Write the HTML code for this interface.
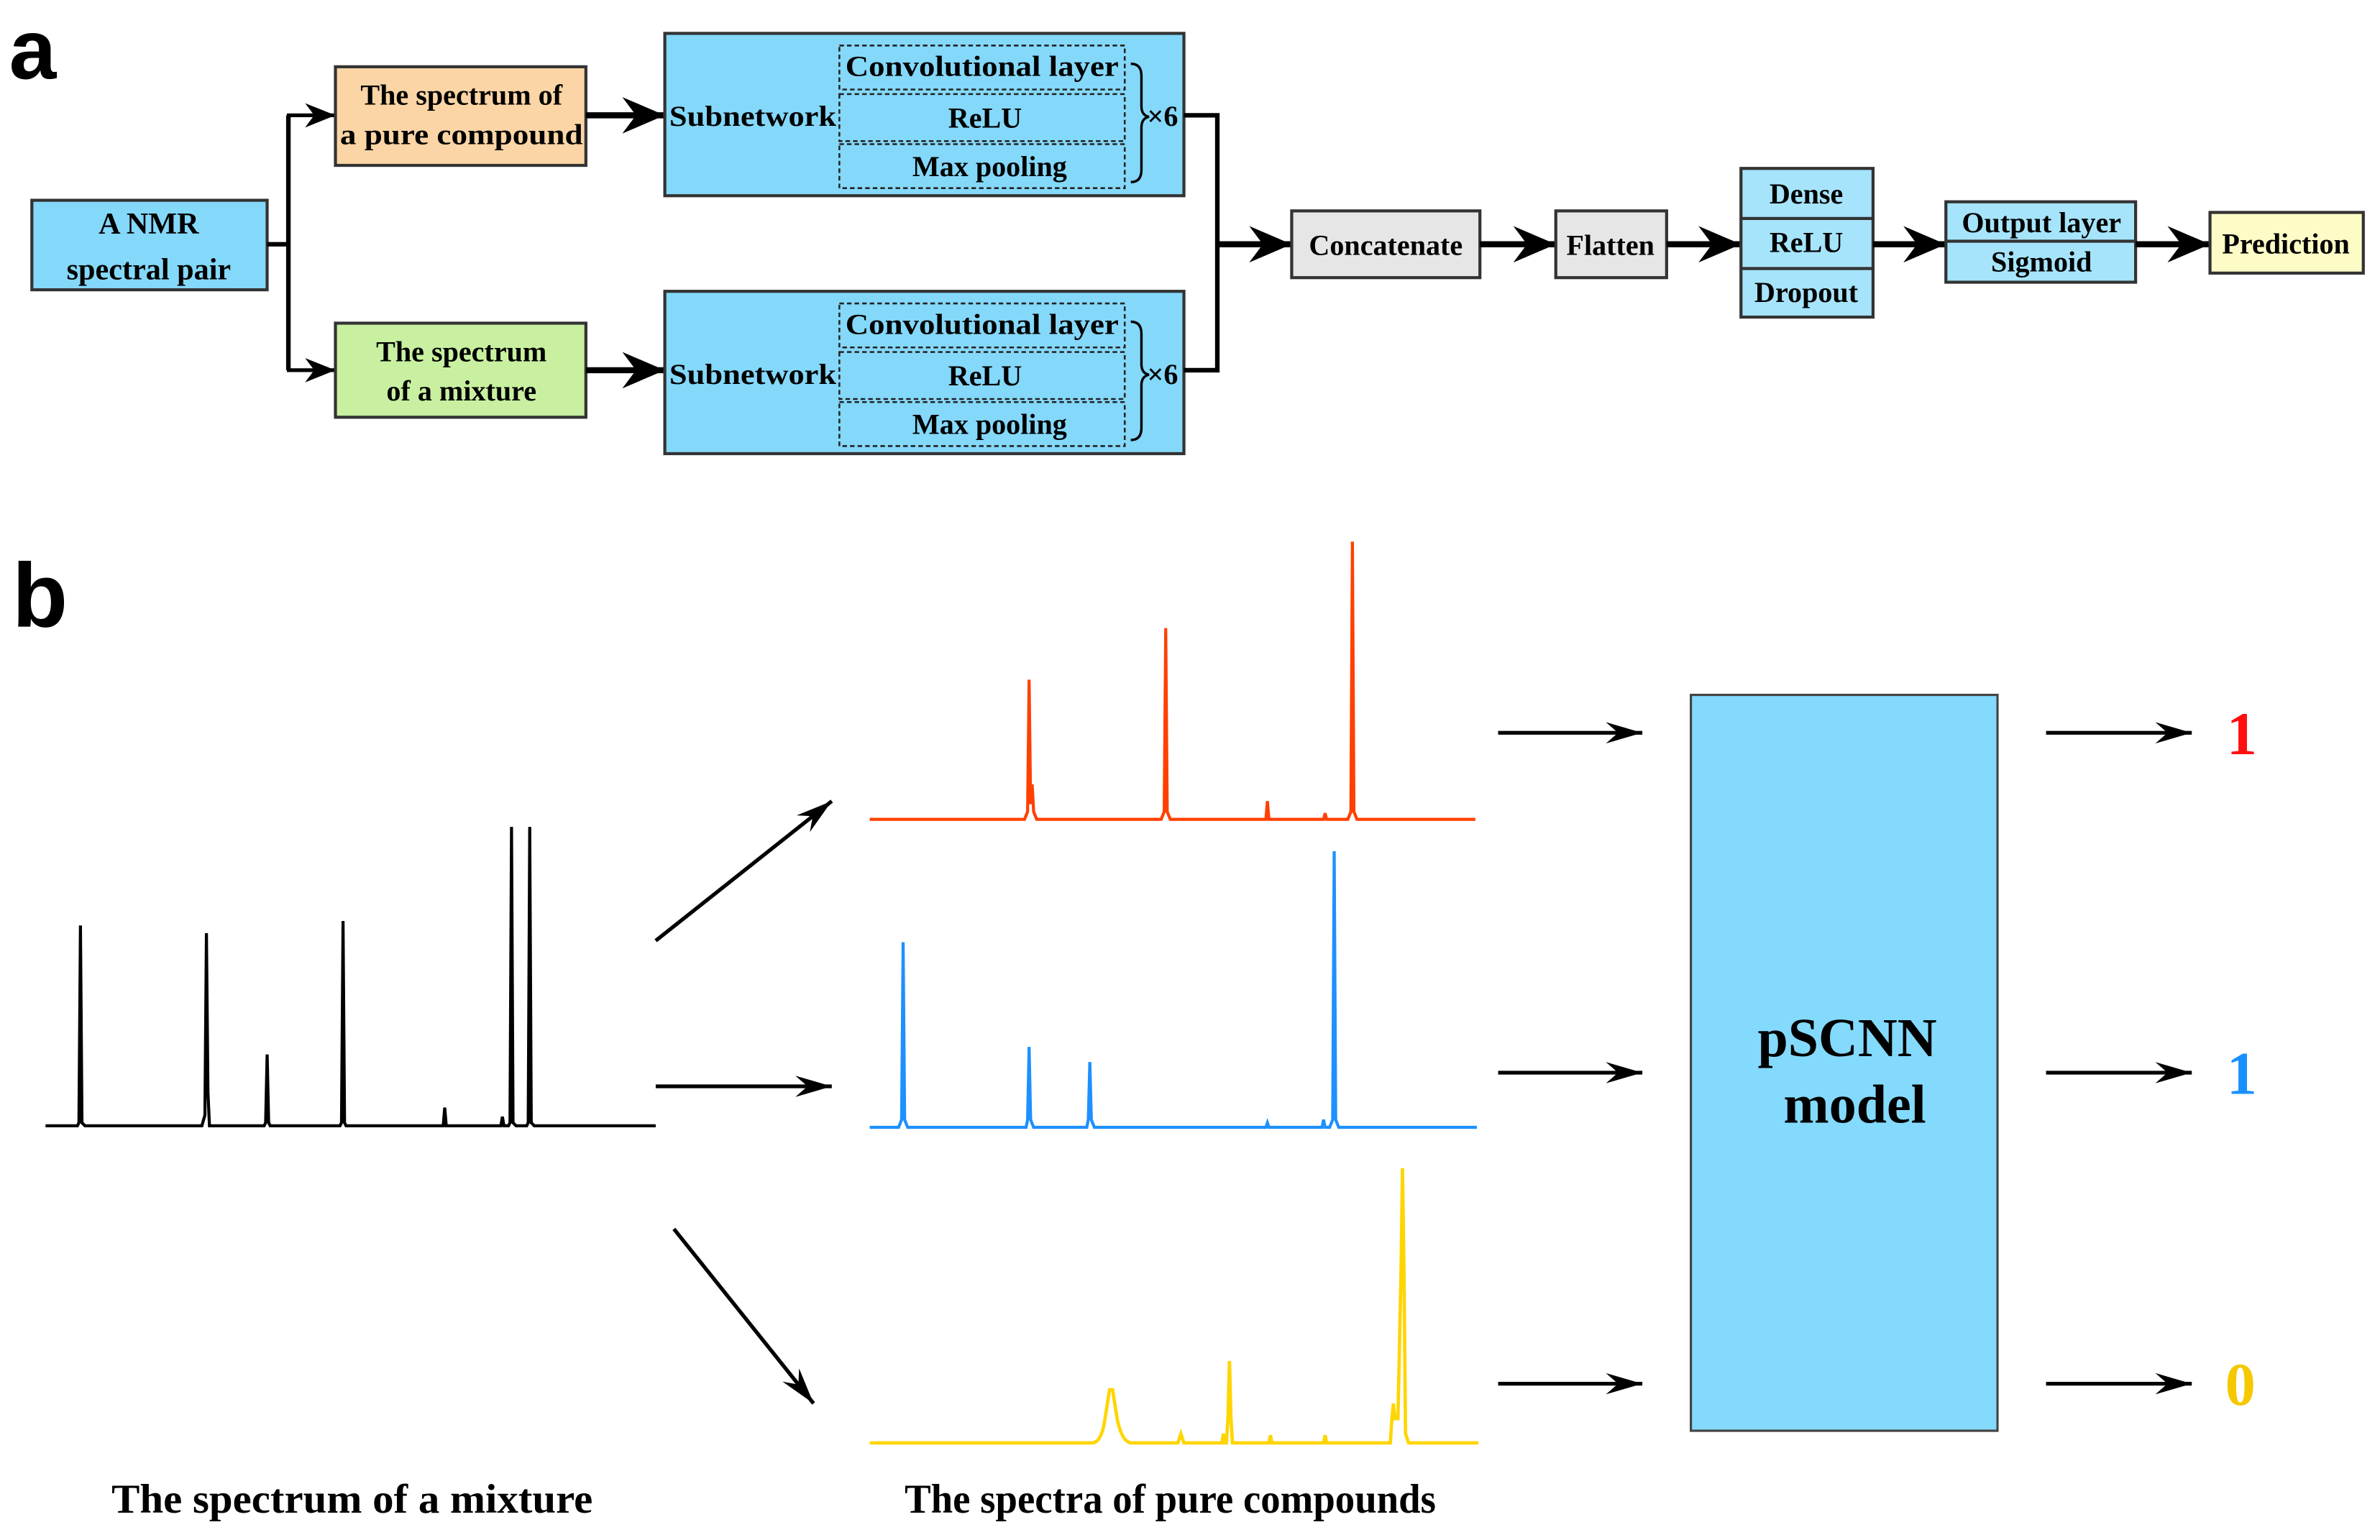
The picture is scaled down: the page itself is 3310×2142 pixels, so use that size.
<!DOCTYPE html>
<html><head><meta charset="utf-8"><style>
html,body{margin:0;padding:0;background:#fff;}
svg{display:block;}
text{font-family:"Liberation Serif",serif;font-weight:bold;fill:#000;}
</style></head><body>
<svg width="3310" height="2142" viewBox="0 0 1568 1015" preserveAspectRatio="none" xmlns="http://www.w3.org/2000/svg">
<defs>
<marker id="big" markerUnits="userSpaceOnUse" markerWidth="30" markerHeight="24" refX="28" refY="12" orient="auto"><path d="M0,0 L28,12 L0,24 L9,12 z" fill="#000"/></marker>
<marker id="sm" markerUnits="userSpaceOnUse" markerWidth="22" markerHeight="16" refX="20" refY="8" orient="auto"><path d="M0,0 L20,8 L0,16 L6,8 z" fill="#000"/></marker>
<marker id="thin" markerUnits="userSpaceOnUse" markerWidth="26" markerHeight="14" refX="24" refY="7" orient="auto"><path d="M0,0 L24,7 L0,14 L8,7 z" fill="#000"/></marker>
</defs>
<style>
.bx{stroke:#333;stroke-width:2;}
.ds{fill:none;stroke:#222;stroke-width:1.2;stroke-dasharray:3,2;}
.t19{font-size:19px;}
.t20{font-size:20px;}
</style>
<!-- a -->
<text x="6" y="52" style="font-family:'Liberation Sans',sans-serif;font-size:56px;font-weight:bold">a</text>
<rect x="21" y="132" width="155" height="59" fill="#84d8fa" class="bx"/>
<text x="98" y="154" class="t20" text-anchor="middle">A NMR</text>
<text x="98" y="184" class="t20" text-anchor="middle">spectral pair</text>
<path d="M176,161 H190 M190,76 V244" stroke="#000" stroke-width="3" fill="none"/>
<line x1="189" y1="76" x2="221" y2="76" stroke="#000" stroke-width="2.5" marker-end="url(#sm)"/>
<line x1="189" y1="244" x2="221" y2="244" stroke="#000" stroke-width="2.5" marker-end="url(#sm)"/>
<rect x="221" y="44" width="165" height="65" fill="#fbd5a5" class="bx" stroke-width="2.5"/>
<text x="304" y="69" class="t19" text-anchor="middle">The spectrum of</text>
<text x="304" y="95" class="t19" text-anchor="middle" textLength="160" lengthAdjust="spacingAndGlyphs">a pure compound</text>
<rect x="221" y="213" width="165" height="62" fill="#c8f0a0" class="bx" stroke-width="2.5"/>
<text x="304" y="238" class="t19" text-anchor="middle">The spectrum</text>
<text x="304" y="264" class="t19" text-anchor="middle">of a mixture</text>
<line x1="386" y1="76" x2="438" y2="76" stroke="#000" stroke-width="4" marker-end="url(#big)"/>
<line x1="386" y1="244" x2="438" y2="244" stroke="#000" stroke-width="4" marker-end="url(#big)"/>
<g id="sub">
<rect x="438" y="22" width="342" height="107" fill="#84d8fa" class="bx"/>
<text x="496" y="83" class="t19" text-anchor="middle" textLength="110" lengthAdjust="spacingAndGlyphs">Subnetwork</text>
<rect x="553" y="30" width="188" height="29" class="ds"/>
<rect x="553" y="62" width="188" height="31" class="ds"/>
<rect x="553" y="95" width="188" height="29" class="ds"/>
<text x="647" y="50" class="t19" text-anchor="middle" textLength="180" lengthAdjust="spacingAndGlyphs">Convolutional layer</text>
<text x="649" y="84" class="t19" text-anchor="middle">ReLU</text>
<text x="652" y="116" class="t19" text-anchor="middle">Max pooling</text>
<path d="M745,42 Q752,42 752,50 V70 Q752,76 757,77 Q752,78 752,84 V112 Q752,120 745,120" fill="none" stroke="#000" stroke-width="1.6"/>
<text x="766" y="83" class="t19" text-anchor="middle">×6</text>
</g>
<use href="#sub" transform="translate(0,170)"/>
<path d="M780,76 H802 V244 H780" stroke="#000" stroke-width="3" fill="none"/>
<line x1="801" y1="161" x2="851" y2="161" stroke="#000" stroke-width="4" marker-end="url(#big)"/>
<rect x="851" y="139" width="124" height="44" fill="#e6e6e6" class="bx"/>
<text x="913" y="168" class="t19" text-anchor="middle">Concatenate</text>
<line x1="975" y1="161" x2="1025" y2="161" stroke="#000" stroke-width="4" marker-end="url(#big)"/>
<rect x="1025" y="139" width="73" height="44" fill="#e6e6e6" class="bx"/>
<text x="1061" y="168" class="t19" text-anchor="middle">Flatten</text>
<line x1="1098" y1="161" x2="1147" y2="161" stroke="#000" stroke-width="4" marker-end="url(#big)"/>
<rect x="1147" y="111" width="87" height="98" fill="#a6e4fb" class="bx"/>
<path d="M1147,144 H1234 M1147,177 H1234" stroke="#333" stroke-width="2"/>
<text x="1190" y="134" class="t19" text-anchor="middle">Dense</text>
<text x="1190" y="166" class="t19" text-anchor="middle">ReLU</text>
<text x="1190" y="199" class="t19" text-anchor="middle">Dropout</text>
<line x1="1234" y1="161" x2="1282" y2="161" stroke="#000" stroke-width="4" marker-end="url(#big)"/>
<rect x="1282" y="133" width="125" height="53" fill="#a6e4fb" class="bx"/>
<path d="M1282,159 H1407" stroke="#333" stroke-width="2"/>
<text x="1345" y="153" class="t19" text-anchor="middle">Output layer</text>
<text x="1345" y="179" class="t19" text-anchor="middle">Sigmoid</text>
<line x1="1407" y1="161" x2="1456" y2="161" stroke="#000" stroke-width="4" marker-end="url(#big)"/>
<rect x="1456" y="140" width="101" height="40" fill="#fdfbc6" class="bx"/>
<text x="1506" y="167" class="t19" text-anchor="middle">Prediction</text>
<!-- b -->
<text x="8" y="413" style="font-family:'Liberation Sans',sans-serif;font-size:60px;font-weight:bold">b</text>
<path fill="none" stroke="#000" stroke-width="2" d="M30,742 H51 L52,740 L53,610 L54,740 L56,742 H133 L135,735 L136,615 L137,720 L138,742 H174 L175,740 L176,695 L177,740 L178,742 H224 L225,740 L226,607 L227,740 L228,742 H291 L292,742 L293,730 L294,742 H330 L331,736 L332,742 H335 L336,740 L337,545 L338,740 L340,742 H347 L348,740 L349,545 L350,740 L352,742 H432"/>
<path fill="none" stroke="#ff4000" stroke-width="2" d="M573,540 H675 L677,535 L678,448 L679,530 L680,517 L681,535 L683,540 H765 L767,535 L768,414 L769,535 L771,540 H834 L835,528 L836,540 H872 L873,536 L874,540 H888 L890,535 L891,357 L892,535 L894,540 H972"/>
<path fill="none" stroke="#1e90ff" stroke-width="2" d="M573,743 H592 L594,738 L595,621 L596,738 L598,743 H676 L677,738 L678,690 L679,738 L681,743 H716 L717,738 L718,700 L719,738 L721,743 H834 L835,740 L836,743 H871 L872,738 L873,743 H876 L878,738 L879,561 L880,738 L882,743 H973"/>
<path fill="none" stroke="#ffd500" stroke-width="2.2" d="M573,951 H720 Q726,950 728,935 L731,916 L733,916 L736,935 Q739,950 745,951 H776 L778,945 L780,951 H805 L806,945 L807,951 H808 L809,935 L810,897 L811,935 L812,951 H836 L837,946 L838,951 H872 L873,946 L874,951 H916 L917,935 L918,925 L919,935 L921,935 L923,840 L924,770 L925,840 L926,945 L928,951 H974"/>
<line x1="432" y1="620" x2="548" y2="528" stroke="#000" stroke-width="2.5" marker-end="url(#thin)"/>
<line x1="432" y1="716" x2="548" y2="716" stroke="#000" stroke-width="2.5" marker-end="url(#thin)"/>
<line x1="444" y1="810" x2="536" y2="925" stroke="#000" stroke-width="2.5" marker-end="url(#thin)"/>
<line x1="987" y1="483" x2="1082" y2="483" stroke="#000" stroke-width="2.5" marker-end="url(#thin)"/>
<line x1="987" y1="707" x2="1082" y2="707" stroke="#000" stroke-width="2.5" marker-end="url(#thin)"/>
<line x1="987" y1="912" x2="1082" y2="912" stroke="#000" stroke-width="2.5" marker-end="url(#thin)"/>
<rect x="1114" y="458" width="202" height="485" fill="#84dafc" stroke="#444" stroke-width="1.5"/>
<text x="1217" y="696" style="font-size:36px" text-anchor="middle">pSCNN</text>
<text x="1222" y="740" style="font-size:36px" text-anchor="middle">model</text>
<line x1="1348" y1="483" x2="1444" y2="483" stroke="#000" stroke-width="2.5" marker-end="url(#thin)"/>
<line x1="1348" y1="707" x2="1444" y2="707" stroke="#000" stroke-width="2.5" marker-end="url(#thin)"/>
<line x1="1348" y1="912" x2="1444" y2="912" stroke="#000" stroke-width="2.5" marker-end="url(#thin)"/>
<text x="1477" y="497" style="font-size:40px;fill:#ff1010" text-anchor="middle">1</text>
<text x="1477" y="721" style="font-size:40px;fill:#1a90ff" text-anchor="middle">1</text>
<text x="1476" y="926" style="font-size:40px;fill:#f5c800" text-anchor="middle">0</text>
<text x="232" y="997" style="font-size:27px" text-anchor="middle" textLength="317" lengthAdjust="spacingAndGlyphs">The spectrum of a mixture</text>
<text x="771" y="997" style="font-size:27px" text-anchor="middle" textLength="350" lengthAdjust="spacingAndGlyphs">The spectra of pure compounds</text>
</svg>
</body></html>
